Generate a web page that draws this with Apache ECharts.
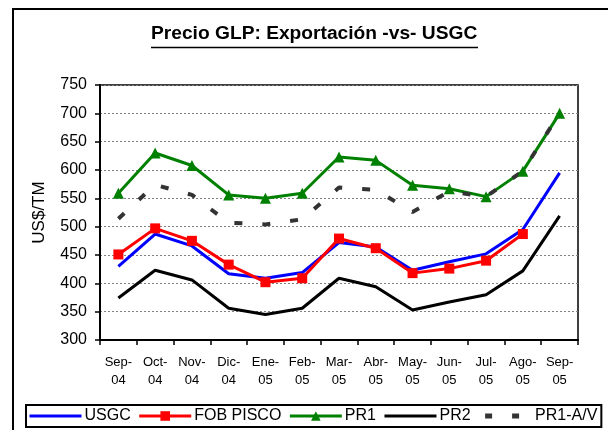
<!DOCTYPE html>
<html>
<head>
<meta charset="utf-8">
<script src="https://cdn.jsdelivr.net/npm/echarts@6/dist/echarts.min.js"></script>
<style>
  html, body { margin: 0; padding: 0; background: #fff; }
  #chart { width: 608px; height: 430px; }
</style>
</head>
<body>
<div id="chart"></div>
<script>
// Monthly categories (month-year)
const categories = ["Sep-\n04", "Oct-\n04", "Nov-\n04", "Dic-\n04", "Ene-\n05", "Feb-\n05", "Mar-\n05",
                    "Abr-\n05", "May-\n05", "Jun-\n05", "Jul-\n05", "Ago-\n05", "Sep-\n05"];

// Prices in US$/TM
const usgc     = [430, 487, 466, 417, 409, 419, 472, 464, 423, 438, 452, 495, 595];
const fobPisco = [451, 497, 475, 433, 402, 409, 479, 462, 418, 426, 440, 487, null];
const pr1      = [559, 630, 608, 556, 550, 559, 623, 617, 573, 567, 553, 598, 700];
const pr2      = [374, 423, 406, 356, 345, 356, 409, 394, 353, 367, 380, 422, 519];
const pr1av    = [514, 574, 556, 507, 504, 513, 569, 565, 526, 562, 553, 598, 700];

// Y axis scale
const yMin = 300, yMax = 750, yStep = 50;

const FONT = "'Liberation Sans', Arial, sans-serif";
const chart = echarts.init(document.getElementById('chart'), null, { renderer: 'canvas' });

// legend entries: lines drawn without point markers hide the symbol
const plainLine = name => ({ name, itemStyle: { opacity: 0 }, lineStyle: { width: 3 } });

chart.setOption({
  backgroundColor: '#fff',
  animation: false,
  title: {
    text: 'Precio GLP: Exportación -vs- USGC',
    left: 151, top: 24, padding: 0,
    textStyle: { fontFamily: FONT, fontSize: 19.2, fontWeight: 'bold', color: '#000' }
  },
  graphic: [
    // outer frame
    { type: 'rect', shape: { x: 13, y: 9, width: 640, height: 460 },
      style: { fill: 'none', stroke: '#000', lineWidth: 2 }, silent: true, z: -1 },
    // title underline
    { type: 'line', shape: { x1: 151, y1: 47.5, x2: 478, y2: 47.5 },
      style: { stroke: '#000', lineWidth: 1.5 }, silent: true }
  ],
  legend: {
    left: 26, top: 405,
    padding: [3, 4, 3, 2],
    itemWidth: 52, itemHeight: 12, itemGap: 7,
    borderColor: '#000', borderWidth: 2,
    textStyle: { fontFamily: FONT, fontSize: 16, color: '#000', padding: [2, 0, 0, -2] },
    data: [
      plainLine('USGC'),
      { name: 'FOB PISCO', lineStyle: { width: 3 } },
      { name: 'PR1', lineStyle: { width: 3 } },
      plainLine('PR2'),
      { name: 'PR1-A/V', itemStyle: { opacity: 0 }, lineStyle: { width: 5, type: [7, 20], dashOffset: -5 } }
    ]
  },
  grid: {
    left: 100, top: 85, width: 478, height: 255,
    show: true, borderColor: '#000', borderWidth: 1.5, backgroundColor: '#fff'
  },
  xAxis: {
    type: 'category',
    data: categories,
    boundaryGap: true,
    axisLine: { lineStyle: { color: '#000', width: 2 } },
    axisTick: { show: true, length: 5, lineStyle: { color: '#000', width: 1.5 } },
    axisLabel: { color: '#000', fontFamily: FONT, fontSize: 13, lineHeight: 18, margin: 13, interval: 0 }
  },
  yAxis: {
    type: 'value',
    min: yMin, max: yMax, interval: yStep,
    name: 'US$/TM',
    nameLocation: 'middle', nameGap: 52,
    nameTextStyle: { fontFamily: FONT, fontSize: 17, color: '#000' },
    axisLine: { show: true, lineStyle: { color: '#000', width: 2 } },
    axisTick: { show: true, length: 5, lineStyle: { color: '#000', width: 1.5 } },
    axisLabel: { color: '#000', fontFamily: FONT, fontSize: 16, margin: 13 },
    splitLine: { show: true, lineStyle: { color: '#808080', width: 1, type: [2, 2] } }
  },
  series: [
    { name: 'USGC', type: 'line', data: usgc, symbol: 'none',
      lineStyle: { color: '#0000FF', width: 3 }, itemStyle: { color: '#0000FF' } },
    { name: 'FOB PISCO', type: 'line', data: fobPisco, symbol: 'rect', symbolSize: 10,
      lineStyle: { color: '#FF0000', width: 3 }, itemStyle: { color: '#FF0000' } },
    { name: 'PR1', type: 'line', data: pr1, symbol: 'triangle', symbolSize: 11,
      lineStyle: { color: '#008000', width: 3 }, itemStyle: { color: '#008000' } },
    { name: 'PR2', type: 'line', data: pr2, symbol: 'none',
      lineStyle: { color: '#000000', width: 3 }, itemStyle: { color: '#000000' } },
    { name: 'PR1-A/V', type: 'line', data: pr1av, symbol: 'none',
      lineStyle: { color: '#333333', width: 4, type: [8, 20] }, itemStyle: { color: '#333333' } }
  ]
});
</script>
</body>
</html>
